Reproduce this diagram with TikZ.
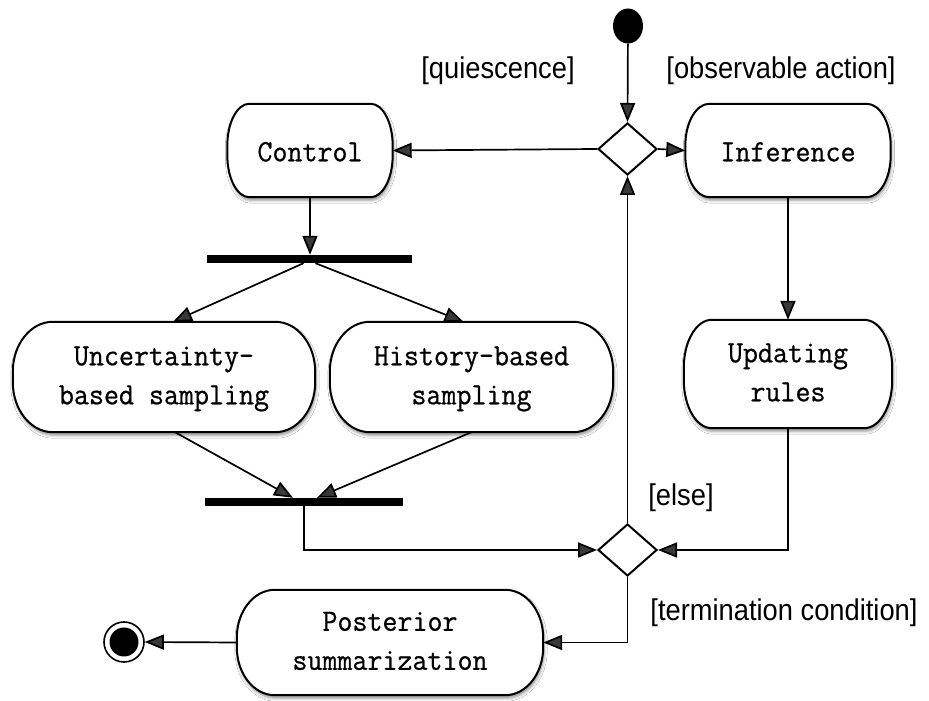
\documentclass[tikz,border=0pt]{standalone}
\usepackage{fontspec}
\usepackage{graphicx}
\newfontfamily\guardfont{Liberation Sans}
\newfontfamily\actfont[FakeBold=0.7]{Latin Modern Mono}
\usetikzlibrary{arrows.meta,shapes.geometric,calc,shadows.blur}

% activity text: typewriter, two lines allowed
\newcommand\acttext[1]{\scalebox{0.94}[1]{\fontsize{31}{39}\actfont\begin{tabular}{@{}c@{}}#1\end{tabular}}}
% guard labels in square brackets
\newcommand\guardtext[1]{\scalebox{0.91}[1]{\fontsize{30}{36}\guardfont #1}}

% stadium-like outline drawn around an (invisible) node: name, x radius, y radius
\newcommand\activityoutline[3]{%
  \draw[boxline]
    ($(#1.north west)+(#2,0)$) -- ($(#1.north east)+(-#2,0)$)
    arc[start angle=90,end angle=0,x radius=#2,y radius=#3]
    -- ($(#1.south east)+(0,#3)$)
    arc[start angle=0,end angle=-90,x radius=#2,y radius=#3]
    -- ($(#1.south west)+(#2,0)$)
    arc[start angle=270,end angle=180,x radius=#2,y radius=#3]
    -- ($(#1.north west)+(0,-#3)$)
    arc[start angle=180,end angle=90,x radius=#2,y radius=#3] -- cycle;}

\tikzset{
  boxline/.style={line width=2pt, fill=white,
    blur shadow={shadow xshift=1pt, shadow yshift=-3pt, shadow opacity=45, shadow blur radius=3pt}},
  activity/.style={draw=none, inner sep=0pt},
  decision/.style={diamond, draw, line width=2pt, fill=white, inner sep=0pt,
    minimum width=59pt, minimum height=52pt},
  syncbar/.style={fill=black, inner sep=0pt, minimum height=8pt},
  flow/.style={line width=1.7pt, -{Triangle[length=19pt,width=15pt]}},
  guard/.style={anchor=base, inner sep=0pt},
}

\begin{document}
\begin{tikzpicture}[x=1pt,y=1pt]
\useasboundingbox (0,0) rectangle (929,701);
\fill[white] (0,0) rectangle (929,701);

% start and end states
\node[ellipse, fill=black, inner sep=0pt, minimum width=30pt, minimum height=35pt] (start) at (628,675) {};
\node[circle, draw, line width=1.6pt, fill=white, inner sep=0pt, minimum size=40pt] (stop) at (124,59) {};
\fill (stop.center) circle (14.5);

% decisions
\node[decision] (d1) at (627.5,552) {};
\node[decision] (d2) at (627.5,151) {};

% activities
\node[activity, minimum width=165pt, minimum height=93pt] (ctl) at (310,550.5) {};
\node[activity, minimum width=205pt, minimum height=93pt] (inf) at (788,550.5) {};
\node[activity, minimum width=302pt, minimum height=110pt] (unc) at (164,324) {};
\node[activity, minimum width=283pt, minimum height=110pt] (hist) at (471.5,324) {};
\node[activity, minimum width=208pt, minimum height=108pt] (upd) at (788,327) {};
\node[activity, minimum width=306pt, minimum height=105pt] (post) at (390,58.5) {};

\activityoutline{ctl}{22}{42}
\activityoutline{inf}{24}{42}
\activityoutline{unc}{40}{50}
\activityoutline{hist}{40}{50}
\activityoutline{upd}{28}{48}
\activityoutline{post}{38}{48}

\node at ($(ctl)+(0,-3)$) {\acttext{Control}};
\node at ($(inf)+(0,-3)$) {\acttext{Inference}};
\node at (unc) {\acttext{Uncertainty-\\based sampling}};
\node at (hist) {\acttext{History-based\\sampling}};
\node at (upd) {\acttext{Updating\\rules}};
\node at (post) {\acttext{Posterior\\summarization}};

% fork and join bars
\node[syncbar, minimum width=205pt] (fork) at (309.5,442) {};
\node[syncbar, minimum width=198pt] (join) at (304,199) {};

% guards
\node[guard] (gq) at (498,622) {\guardtext{[quiescence]}};
\node[guard] (go) at (781,622) {\guardtext{[observable action]}};
\node[guard] (ge) at (681,195) {\guardtext{[else]}};
\node[guard] (gt) at (784,80) {\guardtext{[termination condition]}};

% flows
\draw[flow] (start) -- (d1.north);
\draw[flow] (d1.west) -- (ctl.east);
\draw[flow] (d1.east) -- (inf.east -| inf.west);
\draw[flow] (ctl.south) -- (ctl.south |- fork.north);
\draw[flow] ($(fork.south)+(-6,0)$) -- ($(unc.north)+(9,0)$);
\draw[flow] ($(fork.south)+(6,0)$) -- ($(hist.north)+(-8,0)$);
\draw[flow] ($(unc.south)+(11,0)$) -- ($(join.north)+(-11,0)$);
\draw[flow] (hist.south) -- ($(join.north)+(13,0)$);
\draw[flow] (join.south) |- (d2.west);
\draw[flow] (inf.south) -- (upd.north);
\draw[flow] (upd.south) |- (d2.east);
\draw[flow] (d2.north) -- (d1.south);
\draw[flow] (d2.south) |- (post.east);
\draw[flow] (post.west) -- (stop.east);
\end{tikzpicture}
\end{document}
